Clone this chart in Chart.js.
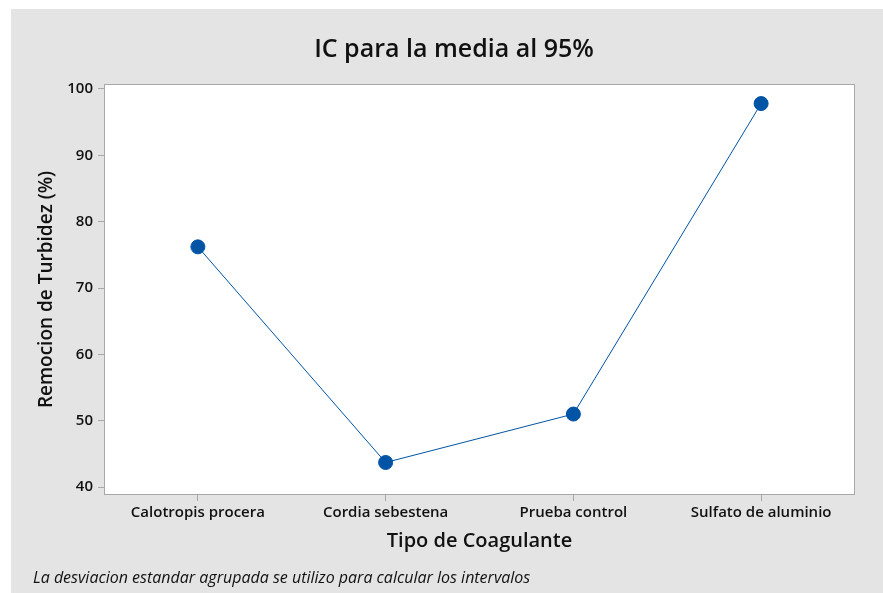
<!DOCTYPE html>
<html>
<head>
<meta charset="utf-8">
<script src="https://cdn.jsdelivr.net/npm/chart.js@4.4.0/dist/chart.umd.min.js"></script>
<style>
  html, body { margin: 0; padding: 0; background: #fff; }
  #wrap { width: 883px; height: 593px; }
</style>
</head>
<body>
<div id="wrap"><canvas id="chart" width="883" height="593"></canvas></div>
<script>
const categories = ['Calotropis procera', 'Cordia sebestena', 'Prueba control', 'Sulfato de aluminio'];
const removal = [76.2, 43.7, 51.0, 97.8];
const yTicks = [40, 50, 60, 70, 80, 90, 100];

const FONT = '"Open Sans", "Noto Sans", sans-serif';
const BLUE = '#0054a6';
const EDGE = '#a8a8a8';

// background panel, white plot area, frame, title and footnote
const decor = {
    id: 'decor',
    beforeDraw(chart) {
        const { ctx, chartArea: a } = chart;
        ctx.save();
        ctx.fillStyle = '#ffffff';
        ctx.fillRect(0, 0, chart.width, chart.height);
        ctx.fillStyle = '#e4e4e4';
        ctx.fillRect(11, 9, chart.width - 11, chart.height - 9);
        ctx.fillStyle = '#ffffff';
        ctx.fillRect(a.left, a.top, a.right - a.left, a.bottom - a.top);
        ctx.restore();
    },
    afterDraw(chart) {
        const { ctx, chartArea: a } = chart;
        ctx.save();
        ctx.strokeStyle = EDGE;
        ctx.lineWidth = 1;
        ctx.strokeRect(a.left + 0.5, a.top + 0.5, a.right - a.left - 1, a.bottom - a.top - 1);
        ctx.fillStyle = '#111';
        ctx.textBaseline = 'middle';
        ctx.textAlign = 'center';
        ctx.font = '600 25px ' + FONT;
        ctx.fillText('IC para la media al 95%', 454, 50);
        ctx.textAlign = 'left';
        ctx.font = 'italic 16px ' + FONT;
        ctx.fillText('La desviacion estandar agrupada se utilizo para calcular los intervalos', 33, 578);
        ctx.restore();
    }
};

new Chart(document.getElementById('chart'), {
    type: 'line',
    data: {
        labels: categories,
        datasets: [{
            data: removal,
            borderColor: BLUE,
            borderWidth: 1,
            backgroundColor: BLUE,
            pointBackgroundColor: BLUE,
            pointBorderColor: BLUE,
            pointRadius: 7,
            tension: 0,
            fill: false
        }]
    },
    options: {
        responsive: false,
        animation: false,
        events: [],
        layout: { padding: { left: 0, right: 28, top: 84, bottom: 0 } },
        plugins: {
            legend: { display: false },
            tooltip: { enabled: false },
            title: { display: false }
        },
        scales: {
            x: {
                offset: true,
                grid: { drawOnChartArea: false, tickLength: 6, color: EDGE, offset: false },
                border: { display: false },
                ticks: { color: '#111', padding: 3, maxRotation: 0, font: { family: FONT, size: 15, weight: '600' } },
                title: {
                    display: true,
                    text: 'Tipo de Coagulante',
                    color: '#111',
                    font: { family: FONT, size: 20, weight: '600', lineHeight: 1.2 },
                    padding: { top: 0, bottom: 40 }
                },
                afterFit(scale) { scale.height = 98; }
            },
            y: {
                min: 38.8,
                max: 100.75,
                grid: { drawOnChartArea: false, tickLength: 6, color: EDGE },
                border: { display: false },
                ticks: { color: '#111', padding: 5, font: { family: FONT, size: 15, weight: '600' } },
                afterBuildTicks(scale) { scale.ticks = yTicks.map(v => ({ value: v })); },
                title: {
                    display: true,
                    text: 'Remocion de Turbidez (%)',
                    color: '#111',
                    font: { family: FONT, size: 19, weight: '600', lineHeight: 1.2 },
                    padding: { top: 35.6, bottom: 0 }
                },
                afterFit(scale) { scale.width = 104; }
            }
        }
    },
    plugins: [decor]
});
</script>
</body>
</html>
